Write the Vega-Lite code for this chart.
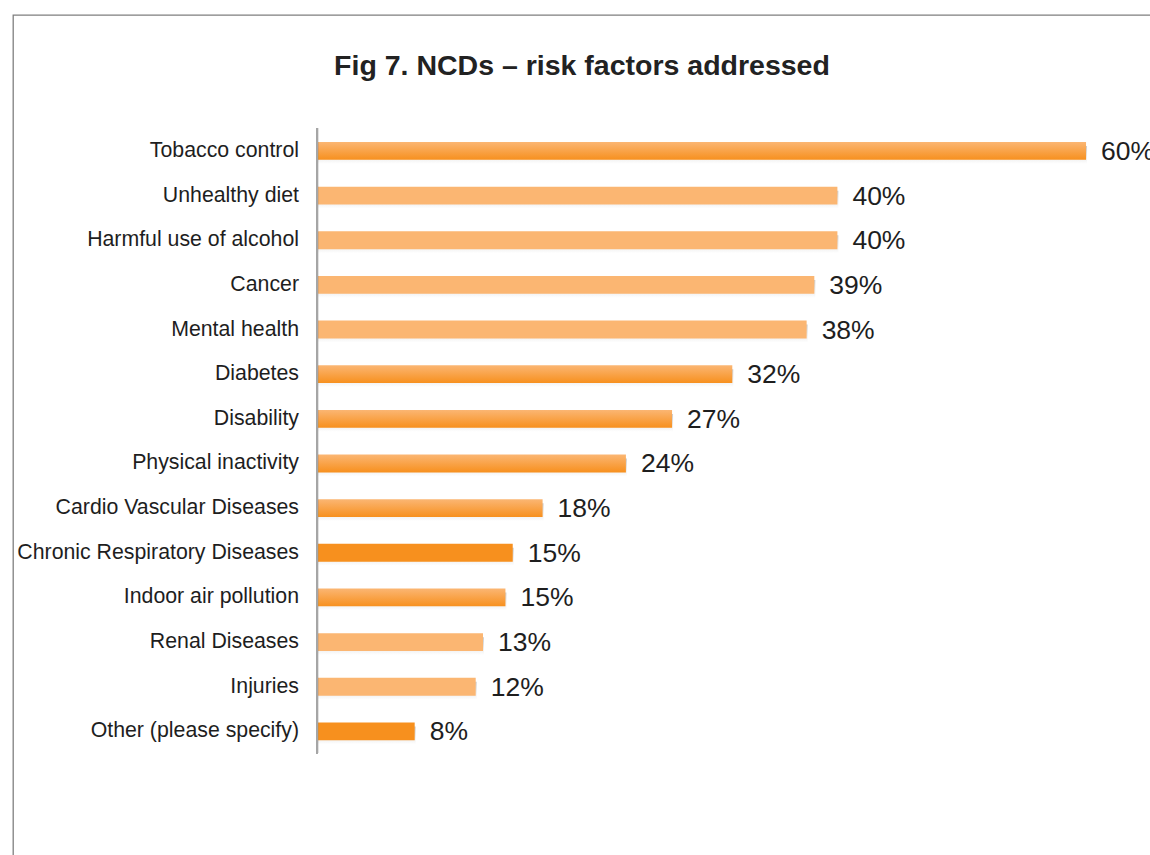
{
  "$schema": "https://vega.github.io/schema/vega-lite/v6.json",
  "width": 1147,
  "height": 850,
  "autosize": {"type": "none"},
  "padding": {"left": 13, "top": 15, "right": -10, "bottom": -10},
  "background": "white",
  "config": {
    "view": {"stroke": "#7f7f7f", "strokeWidth": 1.3},
    "font": "Liberation Sans"
  },
  "title": {
    "text": "Fig 7. NCDs – risk factors addressed",
    "font": "Liberation Sans",
    "fontSize": 28.5,
    "fontWeight": "bold",
    "color": "#222222",
    "anchor": "middle",
    "dx": -4.5,
    "offset": -65
  },
  "data": {
    "values": [
      {"factor": "Tobacco control", "value": 60.0, "label": "60%", "shade": "grad"},
      {"factor": "Unhealthy diet", "value": 40.6, "label": "40%", "shade": "light"},
      {"factor": "Harmful use of alcohol", "value": 40.6, "label": "40%", "shade": "light"},
      {"factor": "Cancer", "value": 38.8, "label": "39%", "shade": "light"},
      {"factor": "Mental health", "value": 38.2, "label": "38%", "shade": "light"},
      {"factor": "Diabetes", "value": 32.4, "label": "32%", "shade": "grad"},
      {"factor": "Disability", "value": 27.7, "label": "27%", "shade": "grad"},
      {"factor": "Physical inactivity", "value": 24.1, "label": "24%", "shade": "grad"},
      {"factor": "Cardio Vascular Diseases", "value": 17.6, "label": "18%", "shade": "grad"},
      {"factor": "Chronic Respiratory Diseases", "value": 15.27, "label": "15%", "shade": "dark"},
      {"factor": "Indoor air pollution", "value": 14.7, "label": "15%", "shade": "grad"},
      {"factor": "Renal Diseases", "value": 12.95, "label": "13%", "shade": "light"},
      {"factor": "Injuries", "value": 12.38, "label": "12%", "shade": "light"},
      {"factor": "Other (please specify)", "value": 7.62, "label": "8%", "shade": "dark"}
    ]
  },
  "encoding": {
    "y": {
      "field": "factor",
      "type": "nominal",
      "sort": null,
      "axis": null,
      "scale": {"paddingInner": 0.6, "paddingOuter": 0, "range": [127, 725.3]}
    }
  },
  "layer": [
    {
      "mark": {
        "type": "bar",
        "yOffset": 4,
        "xOffset": 1,
        "opacity": 0.5,
        "fill": {
          "gradient": "linear", "x1": 0, "y1": 0, "x2": 0, "y2": 1,
          "stops": [{"offset": 0, "color": "#999999"}, {"offset": 1, "color": "#ffffff"}]
        }
      },
      "encoding": {
        "x": {"field": "value", "type": "quantitative", "axis": null,
              "scale": {"domain": [-23.72, 65.77], "nice": false, "zero": false}},
        "x2": {"datum": 0}
      }
    },
    {
      "mark": {"type": "bar"},
      "encoding": {
        "x": {"field": "value", "type": "quantitative"},
        "x2": {"datum": 0},
        "fill": {
          "condition": [
            {"test": "datum.shade === 'grad'", "value": {
              "gradient": "linear", "x1": 0, "y1": 0, "x2": 0, "y2": 1,
              "stops": [{"offset": 0, "color": "#fbb673"}, {"offset": 1, "color": "#f7901e"}]}},
            {"test": "datum.shade === 'dark'", "value": "#f7901e"}
          ],
          "value": "#fbb672"
        }
      }
    },
    {
      "mark": {"type": "rule", "color": "#a6a6a6", "strokeWidth": 2, "yOffset": -23, "y2Offset": 22},
      "encoding": {
        "x": {"datum": 0},
        "y": {"datum": "Tobacco control"},
        "y2": {"datum": "Other (please specify)"}
      }
    },
    {
      "mark": {"type": "text", "align": "right", "baseline": "middle", "dx": -18, "fontSize": 21.3, "color": "#1e1e1e"},
      "encoding": {
        "x": {"datum": 0},
        "text": {"field": "factor"}
      }
    },
    {
      "mark": {"type": "text", "align": "left", "baseline": "middle", "dx": 15, "dy": 1, "fontSize": 26.5, "color": "#1e1e1e"},
      "encoding": {
        "x": {"field": "value", "type": "quantitative"},
        "text": {"field": "label"}
      }
    }
  ]
}
